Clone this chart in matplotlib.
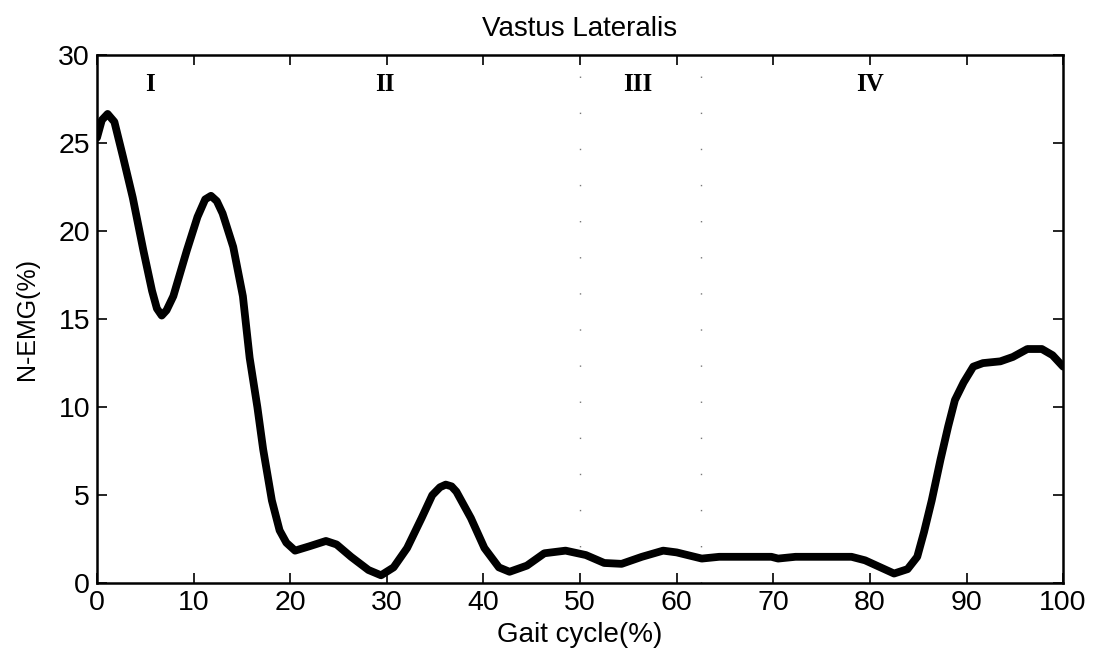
import numpy as np
import matplotlib
matplotlib.use("Agg")
import matplotlib.pyplot as plt

# values
gait = [0, 0.5, 1.1, 1.8, 2.7, 3.7, 4.8, 5.7, 6.2, 6.7, 7.2, 7.9, 9.3, 10.4, 11.2, 11.8,
        12.4, 13.0, 14.1, 15.1, 15.8, 16.6, 17.2, 18.1, 18.9, 19.6, 20.5, 22.0, 23.7,
        24.8, 26.3, 28.1, 29.4, 30.7, 32.1, 33.6, 34.7, 35.5, 36.1, 36.7, 37.2, 38.7,
        40.1, 41.6, 42.7, 44.5, 46.3, 48.5, 50.6, 52.5, 54.3, 56.4, 58.6, 60.0, 62.6,
        64.4, 69.8, 70.5, 72.3, 78.1, 79.5, 81.3, 82.5, 83.9, 84.9, 85.6, 86.4, 87.3,
        88.1, 88.8, 89.7, 90.7, 91.7, 93.5, 94.8, 96.3, 97.8, 98.9, 100]
emg = [25.3, 26.3, 26.65, 26.2, 24.2, 21.9, 18.9, 16.6, 15.6, 15.2, 15.5, 16.3, 18.9, 20.8,
       21.8, 22.0, 21.7, 21.0, 19.1, 16.3, 12.8, 10.0, 7.6, 4.7, 3.0, 2.3, 1.85, 2.1, 2.4,
       2.2, 1.5, 0.75, 0.45, 0.9, 2.0, 3.7, 5.0, 5.45, 5.6, 5.5, 5.2, 3.7,
       2.0, 0.9, 0.65, 1.0, 1.7, 1.85, 1.6, 1.15, 1.1, 1.5, 1.85, 1.75, 1.4,
       1.5, 1.5, 1.4, 1.5, 1.5, 1.3, 0.85, 0.55, 0.8, 1.5, 2.9, 4.7, 7.0,
       8.9, 10.4, 11.4, 12.3, 12.5, 12.6, 12.85, 13.3, 13.3, 12.95, 12.3]

phase_bounds = [50, 62.5]
phase_names = ["I", "II", "III", "IV"]
phase_x = [5.5, 29.8, 56.0, 80.0]

fig = plt.figure(figsize=(10.96, 6.62), dpi=100)
ax = fig.add_axes([0.0885, 0.119, 0.8815, 0.798])

ax.plot(gait, emg, color="black", linewidth=5.6, solid_capstyle="round", solid_joinstyle="round")

for b in phase_bounds:
    ax.axvline(b, color="#777777", linewidth=1.0, linestyle=(0, (1, 25)))

for name, px in zip(phase_names, phase_x):
    ax.text(px, 28.3, name, ha="center", va="center", family="Liberation Serif",
            fontsize=18, fontweight="bold")

ax.set_xlim(0, 100)
ax.set_ylim(0, 30)
ax.set_xticks(np.arange(0, 101, 10))
ax.set_yticks(np.arange(0, 31, 5))
ax.tick_params(direction="in", length=7, width=1.2, top=True, right=True,
               labelsize=20.5, pad=5)
for lab in ax.get_xticklabels() + ax.get_yticklabels():
    lab.set_family("Liberation Sans")
for s in ax.spines.values():
    s.set_linewidth(1.8)

ax.set_title("Vastus Lateralis", family="Liberation Sans", fontsize=20, pad=14)
ax.set_xlabel("Gait cycle(%)", family="Liberation Sans", fontsize=20, labelpad=4)
ax.set_ylabel("N-EMG(%)", family="Liberation Sans", fontsize=18, labelpad=14)

fig.savefig("out.png", dpi=100)
